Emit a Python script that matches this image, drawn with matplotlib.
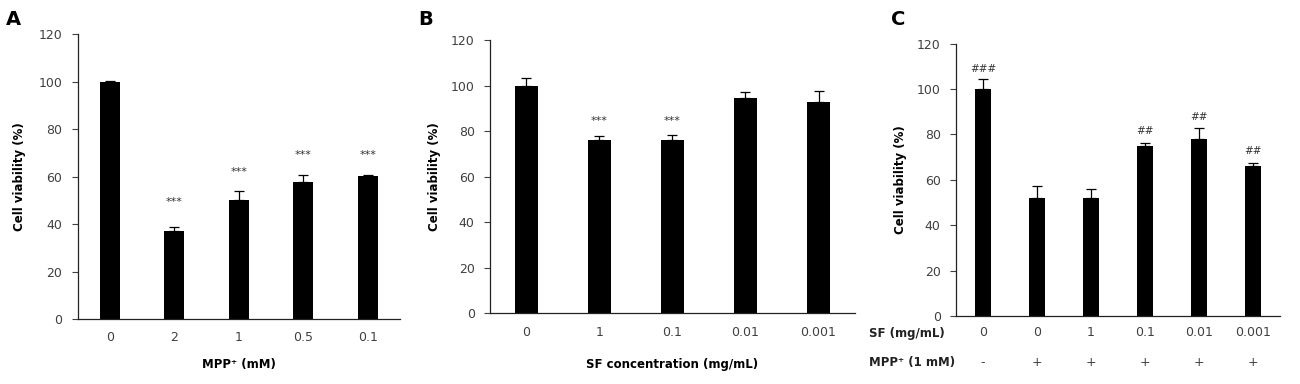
import matplotlib

matplotlib.use("Agg")
import matplotlib.pyplot as plt
from matplotlib.transforms import blended_transform_factory

# panel A: MPP+ dose
a_labels = ["0", "2", "1", "0.5", "0.1"]
a_vals = [100, 37.2, 50.0, 57.9, 60.3]
a_err = [0.5, 1.4, 3.8, 3.0, 0.4]
a_sig = ["", "***", "***", "***", "***"]
a_sig_y = [0, 47, 60, 67, 67]

# panel B: SF concentration
b_labels = ["0", "1", "0.1", "0.01", "0.001"]
b_vals = [100, 76.0, 76.3, 94.8, 93.0]
b_err = [3.4, 1.8, 2.1, 2.5, 4.6]
b_sig = ["", "***", "***", "", ""]
b_sig_y = [0, 82.5, 82.5, 0, 0]

# panel C: SF + MPP+
c_sf = ["0", "0", "1", "0.1", "0.01", "0.001"]
c_mpp = ["-", "+", "+", "+", "+", "+"]
c_vals = [100, 52.1, 51.9, 75.0, 78.0, 66.2]
c_err = [4.3, 5.0, 3.9, 1.4, 5.0, 1.3]
c_sig = ["###", "", "", "##", "##", "##"]
c_sig_y = [106.5, 0, 0, 79.5, 85.5, 70.5]

TICK = "#404040"
plt.rcParams["font.family"] = ["DejaVu Sans"]

fig = plt.figure(figsize=(13, 3.84), dpi=100)

PANELS = [
    ("A", [0.0598, 0.1693, 0.2479, 0.7414], a_labels, a_vals, a_err, a_sig, a_sig_y, "MPP\u207a (mM)", 10),
    ("B", [0.3769, 0.1841, 0.2808, 0.7109], b_labels, b_vals, b_err, b_sig, b_sig_y, "SF concentration (mg/mL)", 14),
    ("C", [0.7354, 0.1771, 0.2492, 0.7091], c_sf, c_vals, c_err, c_sig, c_sig_y, None, 0),
]

for letter, rect, labels, vals, err, sig, sig_y, xlabel, xlpad in PANELS:
    ax = fig.add_axes(rect)
    x = list(range(len(vals)))
    ax.bar(x, vals, 0.31, color="black", zorder=2)
    ax.errorbar(x, vals, yerr=[[0] * len(vals), err], fmt="none",
                ecolor="black", elinewidth=0.9, capsize=3.5, capthick=0.9, zorder=3)
    for xi, s, sy in zip(x, sig, sig_y):
        if s:
            ax.text(xi, sy, s, ha="center", va="bottom", fontsize=8 if "*" in s else 7.5,
                    color="#333333")

    ax.set_xlim(-0.5, len(vals) - 0.5)
    ax.set_ylim(0, 120)
    ax.set_yticks(range(0, 121, 20))
    ax.set_xticks(x)
    ax.set_xticklabels(labels)
    ax.tick_params(axis="y", direction="out", length=4, width=0.8, colors=TICK,
                   labelsize=9, pad=7)
    ax.tick_params(axis="x", length=0, labelsize=9, colors=TICK,
                   pad=7 if letter == "C" else 9)
    for side in ("top", "right"):
        ax.spines[side].set_visible(False)
    for side in ("left", "bottom"):
        ax.spines[side].set_linewidth(0.9)
        ax.spines[side].set_color("#222222")
    ax.set_ylabel("Cell viability (%)", fontsize=8.5, fontweight="bold",
                  labelpad=9 if letter == "A" else 7)
    if xlabel:
        ax.set_xlabel(xlabel, fontsize=8.5, fontweight="bold", labelpad=xlpad)

    bb = ax.get_position()
    fig.text(bb.x0 - 0.055 if letter != "C" else bb.x0 - 0.05, 0.975, letter,
             fontsize=14, fontweight="bold", va="top", ha="left")

    if letter == "C":
        tr = blended_transform_factory(ax.transData, ax.transAxes)
        for xi, m in zip(x, c_mpp):
            ax.text(xi, -0.17, m, transform=tr, ha="center", va="center",
                    fontsize=9, color=TICK)
        ax.text(-0.27, -0.063, "SF (mg/mL)", transform=ax.transAxes, ha="left",
                va="center", fontsize=8.5, fontweight="bold", color="#222222")
        ax.text(-0.27, -0.17, "MPP\u207a (1 mM)", transform=ax.transAxes, ha="left",
                va="center", fontsize=8.5, fontweight="bold", color="#222222")

fig.savefig("out.png", dpi=100)
